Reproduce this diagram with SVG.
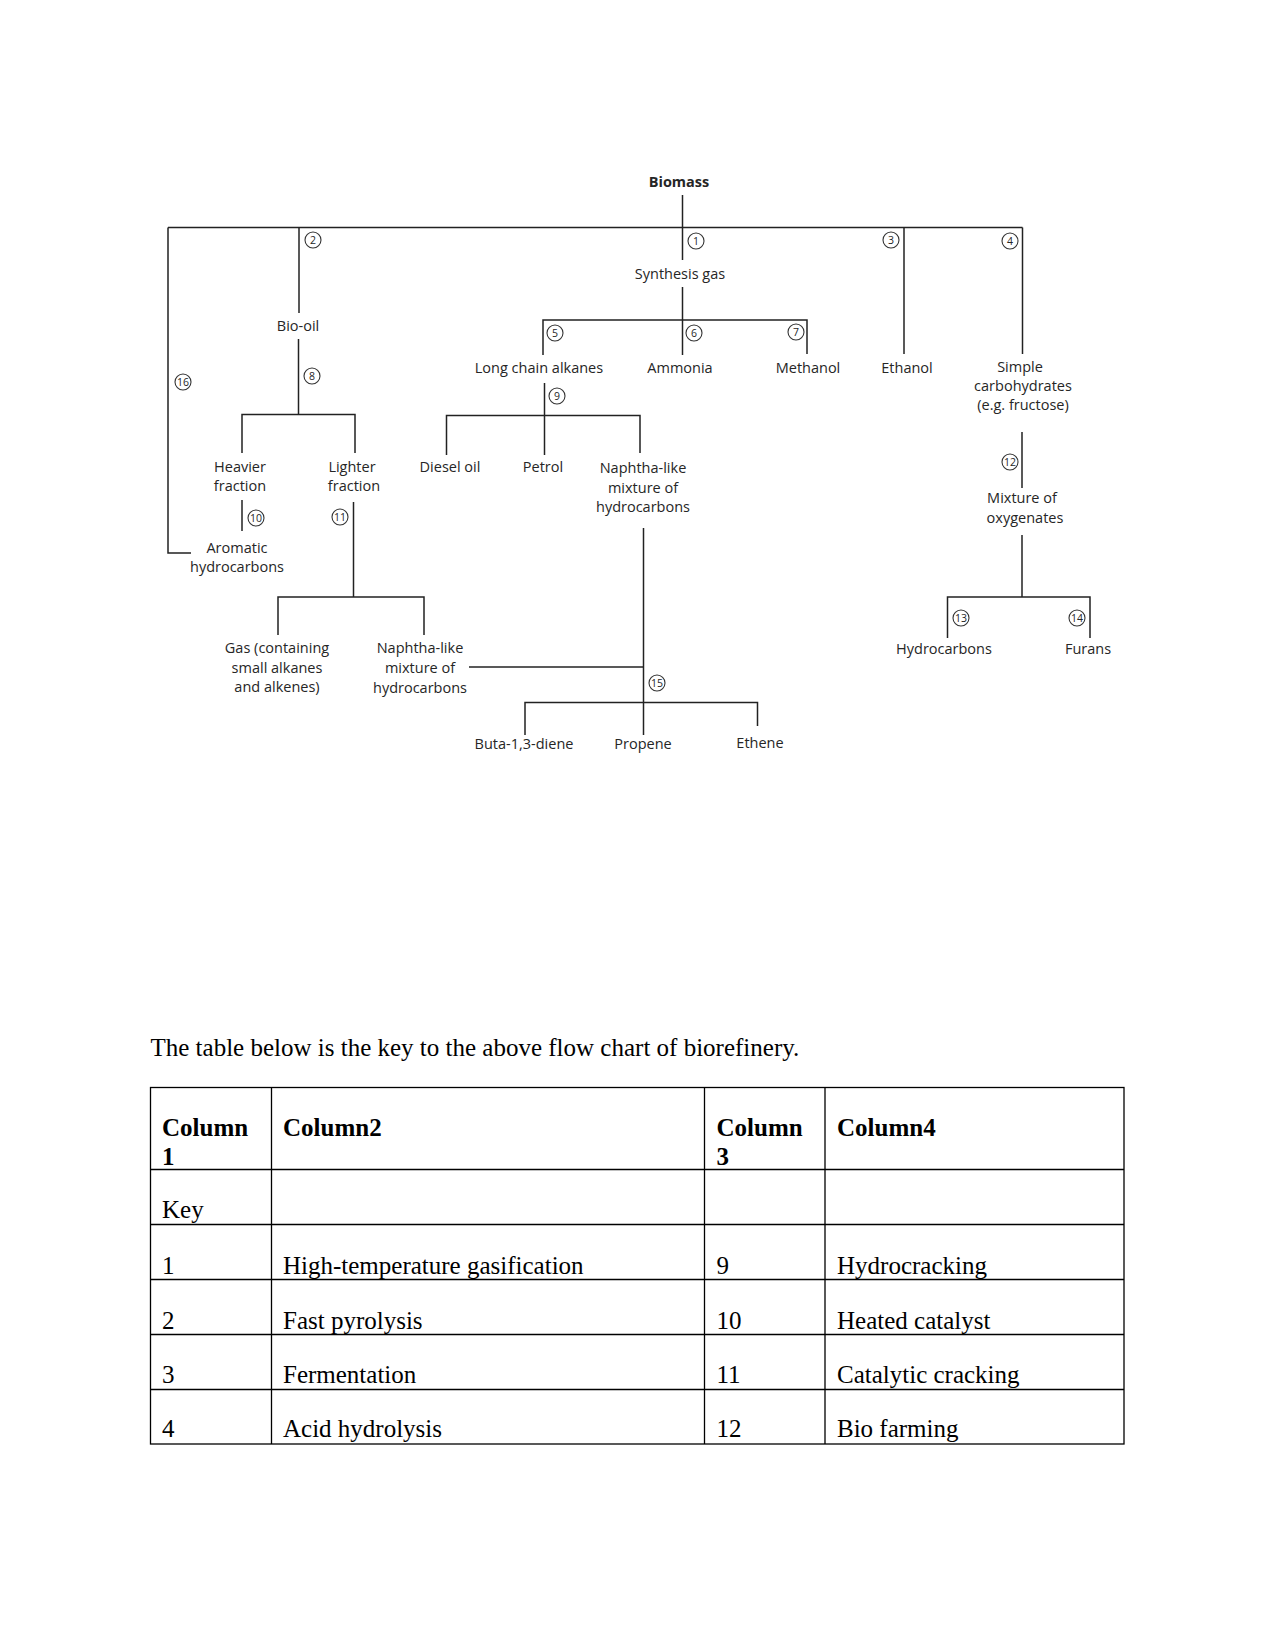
<svg xmlns="http://www.w3.org/2000/svg" width="1275" height="1651" viewBox="0 0 1275 1651">
<defs>
<style>
.bg{fill:#ffffff}
.ln{fill:none;stroke:#222;stroke-width:1.5}
.lbl{font-family:"Open Sans","DejaVu Sans",sans-serif;font-size:14.5px;fill:#262626;text-anchor:middle;dominant-baseline:central}
.bold{font-weight:bold;font-size:14.5px}
.cn circle{fill:#fff;stroke:#333;stroke-width:1.1}
.cn text{font-family:"Open Sans","DejaVu Sans",sans-serif;font-size:10.5px;fill:#262626;text-anchor:middle;dominant-baseline:central}
.tb{fill:none;stroke:#000;stroke-width:1.3}
.tt{font-family:"Liberation Serif","Times New Roman",serif;font-size:25px;fill:#000}
.th{font-weight:bold}
</style>
</defs>
<rect class="bg" x="0" y="0" width="1275" height="1651"/>

<g id="connectors">
<path class="ln" d="M682.5 195 V260"/>
<path class="ln" d="M168 227.5 H1022.5"/>
<path class="ln" d="M168 227.5 V553 H191"/>
<path class="ln" d="M299 227.5 V313"/>
<path class="ln" d="M904 227.5 V354"/>
<path class="ln" d="M1022.5 227.5 V354"/>
<path class="ln" d="M682.5 287 V355"/>
<path class="ln" d="M543 355 V320 H807 V354"/>
<path class="ln" d="M544.5 383 V455"/>
<path class="ln" d="M446.5 455 V415.5 H640 V453"/>
<path class="ln" d="M298.5 339 V415"/>
<path class="ln" d="M242 453 V414.5 H355 V453"/>
<path class="ln" d="M242 500 V531"/>
<path class="ln" d="M353.5 502 V597"/>
<path class="ln" d="M278 635 V597 H424 V635"/>
<path class="ln" d="M643.5 528 V735"/>
<path class="ln" d="M469 667 H643.5"/>
<path class="ln" d="M525 735 V702.5 H757.5 V726"/>
<path class="ln" d="M1022 432 V488"/>
<path class="ln" d="M1022 535 V597"/>
<path class="ln" d="M947.5 638 V597 H1090 V638"/>
</g>

<g id="steps" class="cn">
<g id="s1"><circle cx="696" cy="241" r="8"/><text x="696" y="241">1</text></g>
<g id="s2"><circle cx="313" cy="240" r="8"/><text x="313" y="240">2</text></g>
<g id="s3"><circle cx="891" cy="240" r="8"/><text x="891" y="240">3</text></g>
<g id="s4"><circle cx="1010" cy="241" r="8"/><text x="1010" y="241">4</text></g>
<g id="s5"><circle cx="555" cy="333" r="8"/><text x="555" y="333">5</text></g>
<g id="s6"><circle cx="694" cy="333" r="8"/><text x="694" y="333">6</text></g>
<g id="s7"><circle cx="796" cy="332" r="8"/><text x="796" y="332">7</text></g>
<g id="s8"><circle cx="312" cy="376" r="8"/><text x="312" y="376">8</text></g>
<g id="s9"><circle cx="557" cy="396" r="8"/><text x="557" y="396">9</text></g>
<g id="s10"><circle cx="256" cy="518" r="8"/><text x="256" y="518">10</text></g>
<g id="s11"><circle cx="340" cy="517" r="8"/><text x="340" y="517">11</text></g>
<g id="s12"><circle cx="1010" cy="462" r="8"/><text x="1010" y="462">12</text></g>
<g id="s13"><circle cx="961" cy="618" r="8"/><text x="961" y="618">13</text></g>
<g id="s14"><circle cx="1077" cy="618" r="8"/><text x="1077" y="618">14</text></g>
<g id="s15"><circle cx="657" cy="683" r="8"/><text x="657" y="683">15</text></g>
<g id="s16"><circle cx="183" cy="382" r="8"/><text x="183" y="382">16</text></g>
</g>

<g id="biomass"><text class="lbl bold" x="679" y="181">Biomass</text></g>
<g id="synthesis-gas"><text class="lbl" x="680" y="273">Synthesis gas</text></g>
<g id="bio-oil"><text class="lbl" x="298" y="325">Bio-oil</text></g>
<g id="long-chain-alkanes"><text class="lbl" x="539" y="367">Long chain alkanes</text></g>
<g id="ammonia"><text class="lbl" x="680" y="367">Ammonia</text></g>
<g id="methanol"><text class="lbl" x="808" y="367">Methanol</text></g>
<g id="ethanol"><text class="lbl" x="907" y="367">Ethanol</text></g>
<g id="simple-carbohydrates"><text class="lbl" x="1020" y="366">Simple</text><text class="lbl" x="1023" y="385">carbohydrates</text><text class="lbl" x="1023" y="404">(e.g. fructose)</text></g>
<g id="heavier-fraction"><text class="lbl" x="240" y="466">Heavier</text><text class="lbl" x="240" y="485">fraction</text></g>
<g id="lighter-fraction"><text class="lbl" x="352" y="466">Lighter</text><text class="lbl" x="354" y="485">fraction</text></g>
<g id="diesel-oil"><text class="lbl" x="450" y="466">Diesel oil</text></g>
<g id="petrol"><text class="lbl" x="543" y="466">Petrol</text></g>
<g id="naphtha-1"><text class="lbl" x="643" y="467">Naphtha-like</text><text class="lbl" x="643" y="487">mixture of</text><text class="lbl" x="643" y="506">hydrocarbons</text></g>
<g id="aromatic-hydrocarbons"><text class="lbl" x="237" y="547">Aromatic</text><text class="lbl" x="237" y="566">hydrocarbons</text></g>
<g id="mixture-of-oxygenates"><text class="lbl" x="1022" y="497">Mixture of</text><text class="lbl" x="1025" y="517">oxygenates</text></g>
<g id="gas"><text class="lbl" x="277" y="647">Gas (containing</text><text class="lbl" x="277" y="667">small alkanes</text><text class="lbl" x="277" y="686">and alkenes)</text></g>
<g id="naphtha-2"><text class="lbl" x="420" y="647">Naphtha-like</text><text class="lbl" x="420" y="667">mixture of</text><text class="lbl" x="420" y="687">hydrocarbons</text></g>
<g id="hydrocarbons"><text class="lbl" x="944" y="648">Hydrocarbons</text></g>
<g id="furans"><text class="lbl" x="1088" y="648">Furans</text></g>
<g id="butadiene"><text class="lbl" x="524" y="743">Buta-1,3-diene</text></g>
<g id="propene"><text class="lbl" x="643" y="743">Propene</text></g>
<g id="ethene"><text class="lbl" x="760" y="742">Ethene</text></g>

<g id="caption"><text class="tt" x="150.5" y="1056">The table below is the key to the above flow chart of biorefinery.</text></g>

<g id="key-table">
<rect class="tb" x="150.5" y="1087.5" width="973.5" height="356.5"/>
<path class="tb" d="M271.5 1087.5 V1444 M704.5 1087.5 V1444 M825 1087.5 V1444"/>
<path class="tb" d="M150.5 1169.5 H1124 M150.5 1224.5 H1124 M150.5 1279.5 H1124 M150.5 1334.5 H1124 M150.5 1389.5 H1124"/>
<text class="tt th" x="162" y="1136">Column</text>
<text class="tt th" x="162" y="1165">1</text>
<text class="tt th" x="283" y="1136">Column2</text>
<text class="tt th" x="716.5" y="1136">Column</text>
<text class="tt th" x="716.5" y="1165">3</text>
<text class="tt th" x="837" y="1136">Column4</text>
<text class="tt" x="162" y="1218">Key</text>
<text class="tt" x="162" y="1274">1</text>
<text class="tt" x="283" y="1274">High-temperature gasification</text>
<text class="tt" x="716.5" y="1274">9</text>
<text class="tt" x="837" y="1274">Hydrocracking</text>
<text class="tt" x="162" y="1329">2</text>
<text class="tt" x="283" y="1329">Fast pyrolysis</text>
<text class="tt" x="716.5" y="1329">10</text>
<text class="tt" x="837" y="1329">Heated catalyst</text>
<text class="tt" x="162" y="1383">3</text>
<text class="tt" x="283" y="1383">Fermentation</text>
<text class="tt" x="716.5" y="1383">11</text>
<text class="tt" x="837" y="1383">Catalytic cracking</text>
<text class="tt" x="162" y="1437">4</text>
<text class="tt" x="283" y="1437">Acid hydrolysis</text>
<text class="tt" x="716.5" y="1437">12</text>
<text class="tt" x="837" y="1437">Bio farming</text>
</g>
</svg>
